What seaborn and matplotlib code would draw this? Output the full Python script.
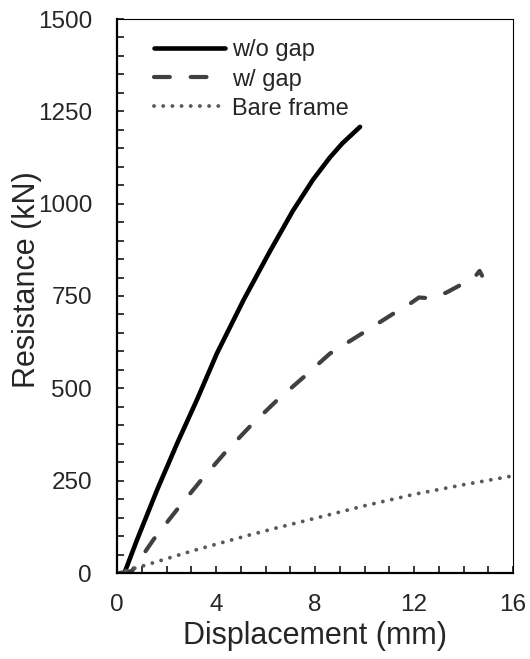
import numpy as np
import pandas as pd
import matplotlib
matplotlib.use("Agg")
import matplotlib.pyplot as plt
from matplotlib.ticker import MultipleLocator
import seaborn as sns

# data
no_gap_x = [0.3, 0.81, 1.62, 2.43, 3.23, 4.04, 5.12, 6.17, 7.1, 7.92, 8.6, 9.1, 9.82]
no_gap_y = [0, 90, 225, 351, 469, 595, 740, 870, 980, 1065, 1125, 1163, 1208]

gap_x = [0.1, 0.6, 1.48, 2.43, 3.37, 4.34, 5.36, 6.44, 7.57, 8.6, 9.96, 11.23, 11.9, 12.2, 12.6, 13.3, 13.94, 14.4, 14.65, 14.75]
gap_y = [0, 5, 91, 172, 249, 324, 396, 466, 532, 594, 651, 705, 732, 746, 744, 759, 782, 797, 818, 805]

bare_x = [0, 0.94, 2.02, 3.1, 4.17, 5.25, 6.33, 7.4, 8, 10, 12, 14, 16]
bare_y = [0, 17, 39, 61, 81, 101, 120, 138, 148, 182, 213, 239, 263]

labels = ["w/o gap", "w/ gap", "Bare frame"]

sns.set_style("ticks")
plt.rcParams["font.family"] = ["Liberation Sans", "DejaVu Sans"]

fig = plt.figure(figsize=(5.3, 6.59), dpi=100)
ax = fig.add_axes([117 / 530, 86 / 659, 396 / 530, 554 / 659])

sns.lineplot(x=no_gap_x, y=no_gap_y, ax=ax, color="black", lw=3.3,
             label=labels[0], solid_capstyle="round")
sns.lineplot(x=gap_x, y=gap_y, ax=ax, color="#404040", lw=3.0,
             label=labels[1])
sns.lineplot(x=bare_x, y=bare_y, ax=ax, color="#595959", lw=2.8,
             label=labels[2])

lines = ax.get_lines()
lines[1].set_dashes((3.8, 5.0))
lines[1].set_dash_capstyle("round")
lines[2].set_dashes((0.01, 2.35))
lines[2].set_dash_capstyle("round")

ax.set_xlim(0, 16)
ax.set_ylim(0, 1500)
ax.xaxis.set_major_locator(MultipleLocator(4))
ax.xaxis.set_minor_locator(MultipleLocator(1))
ax.yaxis.set_major_locator(MultipleLocator(250))
ax.yaxis.set_minor_locator(MultipleLocator(50))

ax.tick_params(which="both", direction="in", length=5, width=1.3, labelsize=17.5)
ax.tick_params(axis="y", pad=18)
ax.tick_params(axis="x", pad=15)
ax.tick_params(top=False, right=False, which="both")

for s in ["left", "bottom"]:
    ax.spines[s].set_linewidth(1.6)
    ax.spines[s].set_color("black")
for s in ["top", "right"]:
    ax.spines[s].set_linewidth(0.8)
    ax.spines[s].set_color("black")

ax.set_xlabel("Displacement (mm)", fontsize=22, labelpad=4)
ax.set_ylabel("Resistance (kN)", fontsize=22)
ax.yaxis.set_label_coords(-0.19, 0.529)

leg = ax.legend(loc="upper left", bbox_to_anchor=(0.093, 0.963), frameon=False,
                fontsize=17, handlelength=3.0, handletextpad=0.3,
                labelspacing=0.3, borderpad=0, borderaxespad=0)

fig.savefig("out.png", dpi=100)
